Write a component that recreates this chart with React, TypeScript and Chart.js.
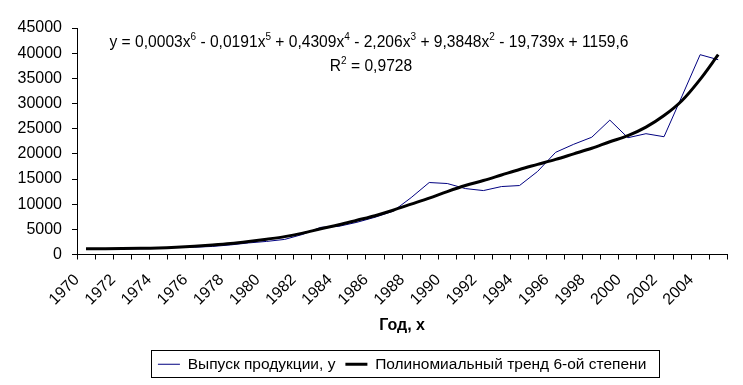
import React, { useEffect, useRef } from "react";
import { Chart, registerables } from "chart.js";

Chart.register(...registerables);

const years: string[] = [
  "1970", "1971", "1972", "1973", "1974", "1975", "1976", "1977", "1978", "1979",
  "1980", "1981", "1982", "1983", "1984", "1985", "1986", "1987", "1988", "1989",
  "1990", "1991", "1992", "1993", "1994", "1995", "1996", "1997", "1998", "1999",
  "2000", "2001", "2002", "2003", "2004", "2005",
];

const output: number[] = [
  1000, 1150, 1150, 1150, 1200, 1500, 1450, 1600, 1900, 2300,
  2600, 3000, 4000, 5400, 5600, 6400, 7400, 8600, 11300, 14300,
  14100, 13100, 12700, 13500, 13700, 16500, 20300, 21900, 23300, 26700,
  23200, 24000, 23400, 31500, 39700, 38700,
];

const trend: number[] = [
  1150, 1160, 1180, 1220, 1300, 1450, 1650, 1900, 2200, 2600,
  3050, 3550, 4250, 5100, 5900, 6800, 7700, 8800, 10000, 11200,
  12500, 13700, 14700, 15800, 16900, 17900, 18900, 20000, 21100, 22400,
  23600, 25300, 27600, 30600, 34800, 39700,
];

const seriesName = "Выпуск продукции, у";
const trendName = "Полиномиальный тренд 6-ой степени";
const xTitle = "Год, x";
const yMin = 0;
const yMax = 45000;
const yStep = 5000;

// equation pieces: even index = normal text, odd index = superscript
const equationParts: string[] = [
  "y = 0,0003x", "6", " - 0,0191x", "5", " + 0,4309x", "4", " - 2,206x", "3",
  " + 9,3848x", "2", " - 19,739x + 1159,6",
];
const rSquaredParts: string[] = ["R", "2", " = 0,9728"];

const FONT = "Arial, 'Liberation Sans', sans-serif";

function drawPieces(ctx: CanvasRenderingContext2D, parts: string[], cx: number, baseline: number) {
  const base = `15.6px ${FONT}`;
  const sup = `10px ${FONT}`;
  let total = 0;
  parts.forEach((p, i) => {
    ctx.font = i % 2 ? sup : base;
    total += ctx.measureText(p).width;
  });
  let x = cx - total / 2;
  parts.forEach((p, i) => {
    ctx.font = i % 2 ? sup : base;
    ctx.fillText(p, x, i % 2 ? baseline - 7 : baseline);
    x += ctx.measureText(p).width;
  });
}

const customPlugin = {
  id: "custom",
  afterLayout(chart: any) {
    const lg = chart.legend;
    const ca = chart.chartArea;
    if (lg && ca) {
      lg.left = ca.left;
      lg.right = ca.right;
      lg.width = ca.right - ca.left;
    }
  },
  afterDraw(chart: any) {
    const ctx: CanvasRenderingContext2D = chart.ctx;
    ctx.save();
    ctx.fillStyle = "#000";
    ctx.textBaseline = "alphabetic";
    ctx.textAlign = "left";
    drawPieces(ctx, equationParts, 369, 47);
    drawPieces(ctx, rSquaredParts, 371, 71);
    const hb = chart.legend?.legendHitBoxes;
    if (hb && hb.length) {
      const first = hb[0];
      const last = hb[hb.length - 1];
      const cy = first.top + first.height / 2;
      const left = Math.round(first.left - 7) + 0.5;
      const right = Math.round(last.left + last.width + 13) + 0.5;
      const top = Math.round(cy - 14) + 0.5;
      const bottom = Math.round(cy + 13) + 0.5;
      ctx.strokeStyle = "#000";
      ctx.lineWidth = 1;
      ctx.strokeRect(left, top, right - left, bottom - top);
    }
    ctx.restore();
  },
};

export default function App() {
  const ref = useRef<HTMLCanvasElement | null>(null);
  useEffect(() => {
    if (!ref.current) return;
    Chart.defaults.font.family = FONT;
    Chart.defaults.color = "#000";
    const chart = new Chart(ref.current, {
      type: "line",
      data: {
        labels: years,
        datasets: [
          {
            label: seriesName,
            data: output,
            borderColor: "#000080",
            backgroundColor: "#000080",
            borderWidth: 1,
            pointRadius: 0,
            tension: 0,
            order: 1,
          },
          {
            label: trendName,
            data: trend,
            borderColor: "#000000",
            backgroundColor: "#000000",
            borderWidth: 3,
            pointRadius: 0,
            cubicInterpolationMode: "monotone",
            order: 0,
          },
        ],
      },
      options: {
        animation: false,
        responsive: false,
        devicePixelRatio: 1,
        layout: { padding: { left: 0, right: 15, top: 28, bottom: 3 } },
        plugins: {
          tooltip: { enabled: false },
          legend: {
            position: "bottom",
            labels: {
              usePointStyle: true,
              pointStyle: "line",
              pointStyleWidth: 22,
              padding: 10,
              color: "#000",
              font: { size: 15.5, family: FONT },
              sort: (a: any, b: any) => a.datasetIndex - b.datasetIndex,
            },
          },
        },
        scales: {
          x: {
            type: "category",
            offset: true,
            afterFit: (s: any) => {
              s.height = 92;
            },
            grid: {
              offset: true,
              drawOnChartArea: false,
              drawTicks: true,
              tickLength: 5,
              color: "#000",
            },
            border: { color: "#000", width: 1 },
            title: {
              display: true,
              text: xTitle,
              color: "#000",
              font: { size: 16, weight: "bold", family: FONT },
              padding: { top: 0, bottom: 11 },
            },
            ticks: {
              autoSkip: false,
              maxRotation: 45,
              minRotation: 45,
              padding: 11,
              labelOffset: -9,
              color: "#000",
              font: { size: 16, family: FONT },
              callback: function (this: any, val: any, index: number) {
                return index % 2 === 0 ? this.getLabelForValue(val) : "";
              },
            },
          },
          y: {
            min: yMin,
            max: yMax,
            afterFit: (s: any) => {
              s.width = 77;
            },
            grid: {
              drawOnChartArea: false,
              drawTicks: true,
              tickLength: 5,
              color: "#000",
            },
            border: { color: "#000", width: 1 },
            ticks: {
              stepSize: yStep,
              padding: 10,
              color: "#000",
              font: { size: 16, family: FONT },
              callback: (v: any) => String(v),
            },
          },
        },
      },
      plugins: [customPlugin],
    } as any);
    return () => chart.destroy();
  }, []);
  return (
    <div style={{ position: "absolute", left: 0, top: 0, width: 743, height: 385, background: "#fff" }}>
      <canvas ref={ref} width={743} height={385} />
    </div>
  );
}
